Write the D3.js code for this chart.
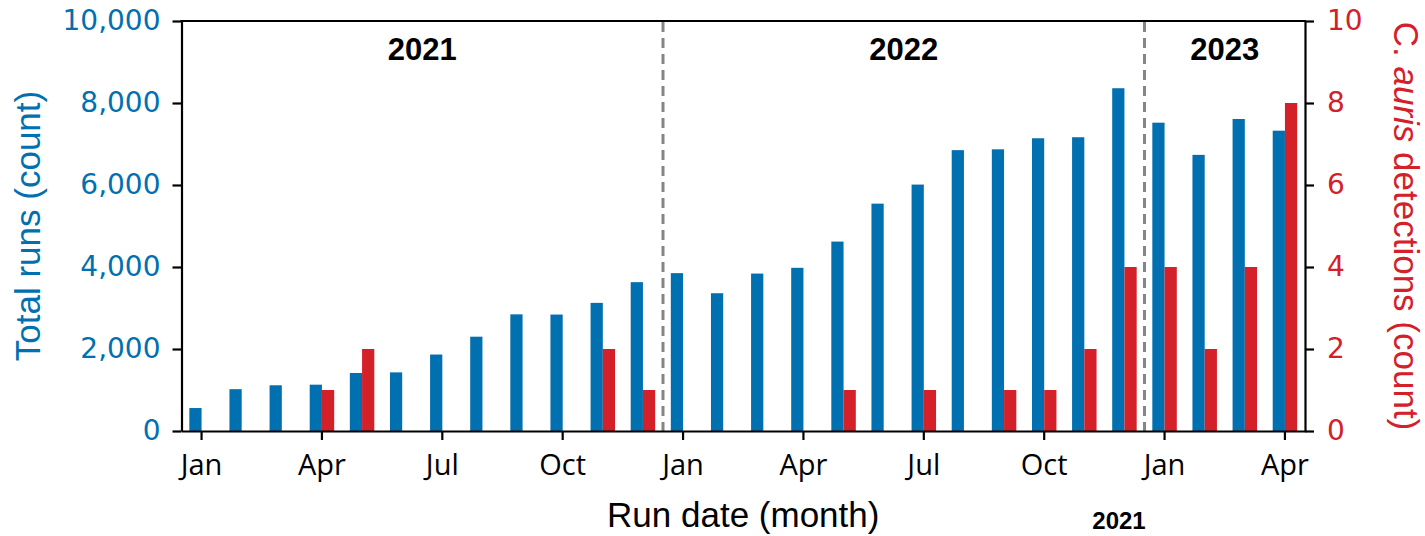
<!DOCTYPE html>
<html>
<head>
<meta charset="utf-8">
<script src="https://cdn.jsdelivr.net/npm/d3@7"></script>
<style>
  body { margin: 0; background: #ffffff; }
  svg { display: block; }
</style>
</head>
<body>
<svg id="chart" width="1425" height="536"></svg>
<script>
// Monthly run totals and C. auris detections, Jan 2021 – Apr 2023
const months = [
  "2021-01", "2021-02", "2021-03", "2021-04", "2021-05", "2021-06",
  "2021-07", "2021-08", "2021-09", "2021-10", "2021-11", "2021-12",
  "2022-01", "2022-02", "2022-03", "2022-04", "2022-05", "2022-06",
  "2022-07", "2022-08", "2022-09", "2022-10", "2022-11", "2022-12",
  "2023-01", "2023-02", "2023-03", "2023-04"
];
const monthNames = ["Jan", "Feb", "Mar", "Apr", "May", "Jun",
                    "Jul", "Aug", "Sep", "Oct", "Nov", "Dec"];

const totalRuns = [
  560, 1020, 1115, 1130, 1415, 1430, 1865, 2300, 2845, 2840, 3125, 3630,
  3850, 3360, 3840, 3980, 4620, 5545, 6010, 6850, 6870, 7140, 7165, 8360,
  7520, 6735, 7610, 7325
];
const detections = [
  0, 0, 0, 1, 2, 0, 0, 0, 0, 0, 2, 1,
  0, 0, 0, 0, 1, 0, 1, 0, 1, 1, 2, 4,
  4, 2, 4, 8
];

const runTicks = [0, 2000, 4000, 6000, 8000, 10000];
const detectionTicks = [0, 2, 4, 6, 8, 10];
const years = ["2021", "2022", "2023"];
const footnoteYear = "2021";

const BLUE = "#0070b0";
const RED = "#d42029";
const TICK_FONT = "'DejaVu Sans', sans-serif";
const MONTH_FONT = "'Open Sans', sans-serif";
const TITLE_FONT = "'Liberation Sans', Arial, sans-serif";

const plot = { left: 181.5, right: 1305, top: 21, bottom: 431 };

const svg = d3.select("#chart");

const x = d3.scaleBand().domain(months).range([plot.left, plot.right]).padding(0);
const yRuns = d3.scaleLinear().domain([0, 10000]).range([plot.bottom, plot.top]);
const yDet = d3.scaleLinear().domain([0, 10]).range([plot.bottom, plot.top]);

const center = m => x(m) + x.bandwidth() / 2;
const barW = x.bandwidth() * 0.305;

// Total runs (left of each month tick)
svg.append("g")
  .selectAll("rect")
  .data(months)
  .join("rect")
  .attr("x", m => center(m) - barW)
  .attr("y", (m, i) => yRuns(totalRuns[i]))
  .attr("width", barW)
  .attr("height", (m, i) => yRuns(0) - yRuns(totalRuns[i]))
  .attr("fill", BLUE);

// Detections (right of each month tick)
svg.append("g")
  .selectAll("rect")
  .data(months)
  .join("rect")
  .attr("x", m => center(m))
  .attr("y", (m, i) => yDet(detections[i]))
  .attr("width", barW)
  .attr("height", (m, i) => yDet(0) - yDet(detections[i]))
  .attr("fill", RED);

// Year dividers at each January boundary
const yearStarts = months.filter((m, i) => i > 0 && m.endsWith("-01"));
svg.append("g")
  .selectAll("line")
  .data(yearStarts)
  .join("line")
  .attr("x1", m => x(m))
  .attr("x2", m => x(m))
  .attr("y1", plot.top + 1)
  .attr("y2", plot.bottom)
  .attr("stroke", "#858585")
  .attr("stroke-width", 3)
  .attr("stroke-dasharray", "10,6");

// Year labels centred over each year's months
svg.append("g")
  .selectAll("text")
  .data(years)
  .join("text")
  .attr("x", yr => d3.mean(months.filter(m => m.startsWith(yr)), center))
  .attr("y", 60)
  .attr("text-anchor", "middle")
  .attr("font-family", TITLE_FONT)
  .attr("font-weight", "bold")
  .attr("font-size", 31)
  .attr("fill", "#000")
  .text(yr => yr);

// Axes
const styleAxis = (g, color, font, size) => {
  g.attr("font-family", font).attr("font-size", size);
  g.selectAll("path.domain").attr("stroke", "#000").attr("stroke-width", 2.2);
  g.selectAll(".tick line").attr("stroke", "#000").attr("stroke-width", 2.2);
  g.selectAll(".tick text").attr("fill", color);
};

svg.append("g")
  .attr("transform", `translate(0,${plot.bottom})`)
  .call(d3.axisBottom(x)
    .tickValues(months.filter((m, i) => i % 3 === 0))
    .tickFormat(m => monthNames[+m.slice(5) - 1])
    .tickSize(9).tickPadding(14).tickSizeOuter(0))
  .call(g => styleAxis(g, "#000", MONTH_FONT, 29));

svg.append("g")
  .attr("transform", `translate(${plot.left},0)`)
  .call(d3.axisLeft(yRuns)
    .tickValues(runTicks)
    .tickFormat(d3.format(","))
    .tickSize(9).tickPadding(12).tickSizeOuter(0))
  .call(g => styleAxis(g, BLUE, TICK_FONT, 28));

svg.append("g")
  .attr("transform", `translate(${plot.right},0)`)
  .call(d3.axisRight(yDet)
    .tickValues(detectionTicks)
    .tickFormat(d3.format("d"))
    .tickSize(9).tickPadding(13).tickSizeOuter(0))
  .call(g => styleAxis(g, RED, TICK_FONT, 28));

// Top spine
svg.append("line")
  .attr("x1", plot.left - 1.1).attr("x2", plot.right + 1.1)
  .attr("y1", plot.top).attr("y2", plot.top)
  .attr("stroke", "#000").attr("stroke-width", 2.2);

// Axis titles
svg.append("text")
  .attr("transform", `translate(40,${(plot.top + plot.bottom) / 2}) rotate(-90)`)
  .attr("text-anchor", "middle")
  .attr("font-family", TITLE_FONT)
  .attr("font-size", 35)
  .attr("fill", BLUE)
  .text("Total runs (count)");

const rightTitle = svg.append("text")
  .attr("transform", `translate(1394,${(plot.top + plot.bottom) / 2}) rotate(90)`)
  .attr("text-anchor", "middle")
  .attr("font-family", TITLE_FONT)
  .attr("font-size", 35)
  .attr("fill", RED);
rightTitle.append("tspan").text("C. ");
rightTitle.append("tspan").attr("font-style", "italic").text("auris");
rightTitle.append("tspan").text(" detections (count)");

svg.append("text")
  .attr("x", (plot.left + plot.right) / 2)
  .attr("y", 527)
  .attr("text-anchor", "middle")
  .attr("font-family", TITLE_FONT)
  .attr("font-size", 35)
  .attr("fill", "#000")
  .text("Run date (month)");

// Year caption along the bottom edge
svg.append("text")
  .attr("x", 1119)
  .attr("y", 529)
  .attr("text-anchor", "middle")
  .attr("font-family", TITLE_FONT)
  .attr("font-weight", "bold")
  .attr("font-size", 24)
  .attr("fill", "#000")
  .text(footnoteYear);
</script>
</body>
</html>
